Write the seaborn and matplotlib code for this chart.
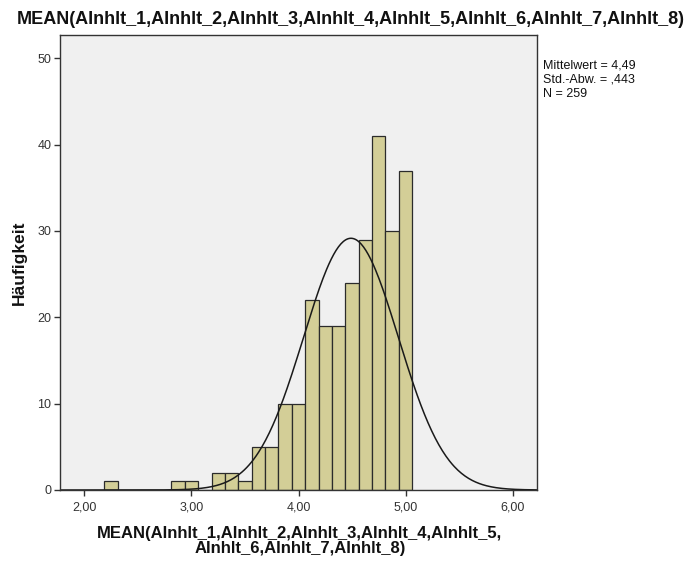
import numpy as np
import pandas as pd
import matplotlib
matplotlib.use("Agg")
import matplotlib.pyplot as plt
import seaborn as sns

# Data (bin centers are multiples of 1/8, counts)
bin_centers = [2.25, 2.875, 3.0, 3.25, 3.375, 3.5, 3.625, 3.75, 3.875, 4.0,
               4.125, 4.25, 4.375, 4.5, 4.625, 4.75, 4.875, 5.0]
counts = [1, 1, 1, 2, 2, 1, 5, 5, 10, 10, 22, 19, 19, 24, 29, 41, 30, 37]
mean_val = 4.49
sd_val = 0.443
n_val = 259
bin_width = 0.125
x_ticks = [2.0, 3.0, 4.0, 5.0, 6.0]
x_tick_labels = ["2,00", "3,00", "4,00", "5,00", "6,00"]
y_ticks = [0, 10, 20, 30, 40, 50]

title = "MEAN(AInhlt_1,AInhlt_2,AInhlt_3,AInhlt_4,AInhlt_5,AInhlt_6,AInhlt_7,AInhlt_8)"
xlabel = "MEAN(AInhlt_1,AInhlt_2,AInhlt_3,AInhlt_4,AInhlt_5,\nAInhlt_6,AInhlt_7,AInhlt_8)"
ylabel = "Häufigkeit"
stats_text = "Mittelwert = 4,49\nStd.-Abw. = ,443\nN = 259"

sns.set_theme(style="ticks")
plt.rcParams['font.family'] = ['Liberation Sans', 'DejaVu Sans']

df = pd.DataFrame({"value": bin_centers, "count": counts})

fig = plt.figure(figsize=(6.95, 5.62), dpi=100)
ax = fig.add_axes([60.3 / 695, 1 - 490 / 562, (536.7 - 60.3) / 695, (490 - 35) / 562])
ax.set_facecolor("#f0f0f0")

sns.histplot(data=df, x="value", weights="count", binwidth=bin_width,
             binrange=(2.1875, 5.0625), ax=ax,
             color="#d3ce97", edgecolor="#2b2b2b", linewidth=0.9, alpha=1.0)

xs = np.linspace(1.775, 6.225, 400)
ys = n_val * bin_width / (sd_val * np.sqrt(2 * np.pi)) * np.exp(-0.5 * ((xs - mean_val) / sd_val) ** 2)
ax.plot(xs, ys, color="#1a1a1a", linewidth=1.1)

ax.set_xlim(1.775, 6.225)
ax.set_ylim(0, 52.7)
ax.set_xticks(x_ticks)
ax.set_xticklabels(x_tick_labels)
ax.set_yticks(y_ticks)
ax.tick_params(axis="both", direction="out", length=4.5, width=1, colors="#333333",
               labelsize=9, labelcolor="#333333", pad=2)
ax.tick_params(axis="x", pad=3.5)
for s in ax.spines.values():
    s.set_color("#333333")
    s.set_linewidth(1)

ax.set_xlabel("")
ax.set_ylabel("")
fig.text(300 / 695, 1 - 541 / 562, xlabel, ha="center", va="center", fontsize=12,
         fontweight="bold", color="#111111", linespacing=0.95)
fig.text(19 / 695, 1 - 263 / 562, ylabel, ha="center", va="center", rotation=90,
         fontsize=12.5, fontweight="bold", color="#111111")
fig.text(351 / 695, 1 - 20 / 562, title, ha="center", va="center", fontsize=13,
         fontweight="bold", color="#111111")
fig.text(543 / 695, 1 - 59 / 562, stats_text, ha="left", va="top", fontsize=9,
         color="#111111", linespacing=1.3)

fig.savefig("out.png", dpi=100, facecolor="white")
